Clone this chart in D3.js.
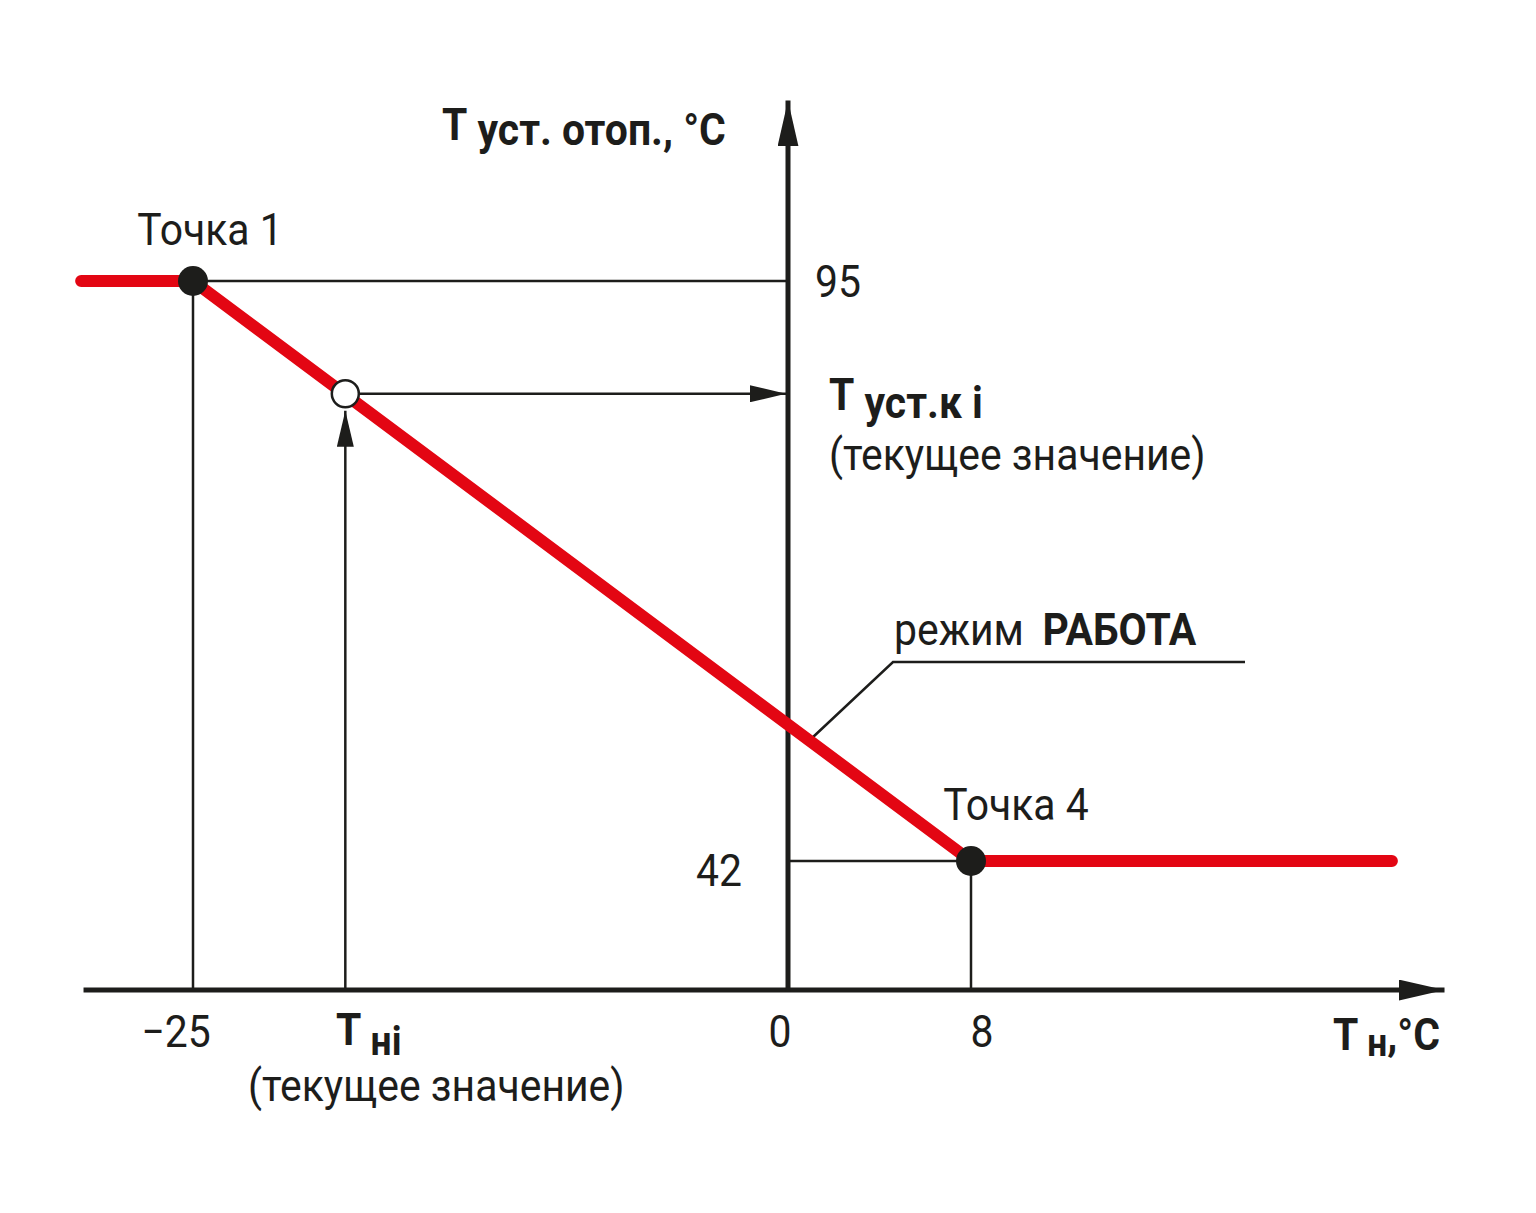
<!DOCTYPE html>
<html><head><meta charset="utf-8">
<script src="https://cdn.jsdelivr.net/npm/d3@7/dist/d3.min.js"></script>
<style>html,body{margin:0;padding:0;background:#fff;}svg{display:block;}</style>
</head><body>
<svg id="c" width="1536" height="1213"></svg>
<script>
// ---- data (schematic heating curve) ----
const curveX = [-29.7, -25, 8, 26.4];      // outdoor temperature, °C
const curveY = [95, 95, 42, 42];            // heating setpoint, °C
const keyPointsX = [-25, 8];
const keyPointsY = [95, 42];
const keyPointNames = ["Точка 1", "Точка 4"];
const currentX = [-18.6];                   // Tнi
const currentY = [84.7];                    // Tуст.к i
const xTickValues = [-25, 0, 8];
const xTickLabels = ["−25", "0", "8"];
const yTickValues = [95, 42];
const yTickLabels = ["95", "42"];
const xAxisExtent = [-29.6, 28.7];
const yAxisExtent = [0, 111.5];

const svg = d3.select("#c");
const x = d3.scaleLinear().domain([-25, 0, 8]).range([193, 788, 971]);
const y = d3.scaleLinear().domain([0, 42, 95]).range([990, 861, 281]);
const INK = "#1d1d1b", RED = "#e30613";
const FONT = "Roboto, 'Noto Sans', sans-serif";
const SX = 0.93;

function label(px, py, anchor, parts, size) {
  const t = svg.append("text")
    .attr("transform", `translate(${px},${py}) scale(${SX},1)`)
    .attr("text-anchor", anchor)
    .attr("font-family", FONT).attr("font-size", size || 44).attr("fill", INK);
  parts.forEach(p => {
    const s = t.append("tspan").text(p.t);
    if (p.b) s.attr("font-weight", 700);
    if (p.dy) s.attr("dy", p.dy);
    if (p.dx) s.attr("dx", p.dx);
    if (p.fs) s.attr("font-size", p.fs);
  });
  return t;
}

// arrow markers
const defs = svg.append("defs");
function marker(id, len, wid) {
  defs.append("marker").attr("id", id).attr("viewBox", "0 0 10 10")
    .attr("preserveAspectRatio", "none")
    .attr("refX", 10).attr("refY", 5).attr("markerUnits", "userSpaceOnUse")
    .attr("markerWidth", len).attr("markerHeight", wid).attr("orient", "auto")
    .append("path").attr("d", "M0,0L10,5L0,10Z").attr("fill", INK);
}
marker("bigArrow", 46, 21);
marker("smallArrow", 36, 17);

// guide lines
const thin = 2.5;
keyPointsX.forEach((kx, i) => {
  svg.append("line").attr("x1", x(0)).attr("x2", x(kx))
    .attr("y1", y(keyPointsY[i])).attr("y2", y(keyPointsY[i]))
    .attr("stroke", INK).attr("stroke-width", thin);
  svg.append("line").attr("x1", x(kx)).attr("x2", x(kx))
    .attr("y1", y(keyPointsY[i])).attr("y2", y(0))
    .attr("stroke", INK).attr("stroke-width", thin);
});
// current value arrows
svg.append("line").attr("x1", x(currentX[0])).attr("x2", x(currentX[0]))
  .attr("y1", y(0)).attr("y2", y(currentY[0]) + 17)
  .attr("stroke", INK).attr("stroke-width", thin).attr("marker-end", "url(#smallArrow)");
svg.append("line").attr("x1", x(currentX[0]) + 14).attr("x2", x(0) - 2)
  .attr("y1", y(currentY[0])).attr("y2", y(currentY[0]))
  .attr("stroke", INK).attr("stroke-width", thin).attr("marker-end", "url(#smallArrow)");

// axes
svg.append("line").attr("x1", x(xAxisExtent[0])).attr("x2", x(xAxisExtent[1]))
  .attr("y1", y(0)).attr("y2", y(0)).attr("stroke", INK).attr("stroke-width", 5)
  .attr("marker-end", "url(#bigArrow)");
svg.append("line").attr("x1", x(0)).attr("x2", x(0))
  .attr("y1", y(0) + 2).attr("y2", y(yAxisExtent[1]))
  .attr("stroke", INK).attr("stroke-width", 5).attr("marker-end", "url(#bigArrow)");

// leader for "режим РАБОТА"
svg.append("path").attr("d", "M812,738L893,662L1245,662")
  .attr("fill", "none").attr("stroke", INK).attr("stroke-width", thin);

// red curve
const line = d3.line().x((d, i) => x(curveX[i])).y((d, i) => y(curveY[i]));
svg.append("path").datum(curveX).attr("d", line)
  .attr("fill", "none").attr("stroke", RED).attr("stroke-width", 12)
  .attr("stroke-linecap", "round").attr("stroke-linejoin", "round");

// points
svg.selectAll("circle.key").data(keyPointsX).join("circle").attr("class", "key")
  .attr("cx", d => x(d)).attr("cy", (d, i) => y(keyPointsY[i])).attr("r", 15).attr("fill", INK);
svg.append("circle").attr("cx", x(currentX[0])).attr("cy", y(currentY[0])).attr("r", 13.5)
  .attr("fill", "#fff").attr("stroke", INK).attr("stroke-width", 2.5);

// tick labels
const xOff = [-17, -8, 11];
xTickValues.forEach((v, i) => label(x(v) + xOff[i], 1047, "middle", [{t: xTickLabels[i]}]));
label(x(0) + 27, y(yTickValues[0]) + 16, "start", [{t: yTickLabels[0]}]);
label(x(0) - 46, y(yTickValues[1]) + 25, "end", [{t: yTickLabels[1]}]);

// point names
label(x(keyPointsX[0]) + 17, 245, "middle", [{t: keyPointNames[0]}]);
label(x(keyPointsX[1]) + 45, 820, "middle", [{t: keyPointNames[1]}]);

// axis titles
label(442, 140, "start", [{t: "Т", b: 1}, {t: " уст. отоп., °C", b: 1, dy: 5}]);
label(1333, 1050, "start", [{t: "Т", b: 1}, {t: " н", b: 1, dy: 6, fs: 38}, {t: ",°C", b: 1, dy: -6}]);

// current value labels
label(829, 410, "start", [{t: "Т", b: 1}, {t: " уст.к і", b: 1, dy: 8}]);
label(829, 470, "start", [{t: "(текущее значение)"}]);
label(336, 1045, "start", [{t: "Т", b: 1}, {t: " ні", b: 1, dy: 10, fs: 40}]);
label(248, 1101, "start", [{t: "(текущее значение)"}]);

// mode label
label(894, 645, "start", [{t: "режим "}, {t: "РАБОТА", b: 1, dx: 9}]);
</script>
</body></html>
